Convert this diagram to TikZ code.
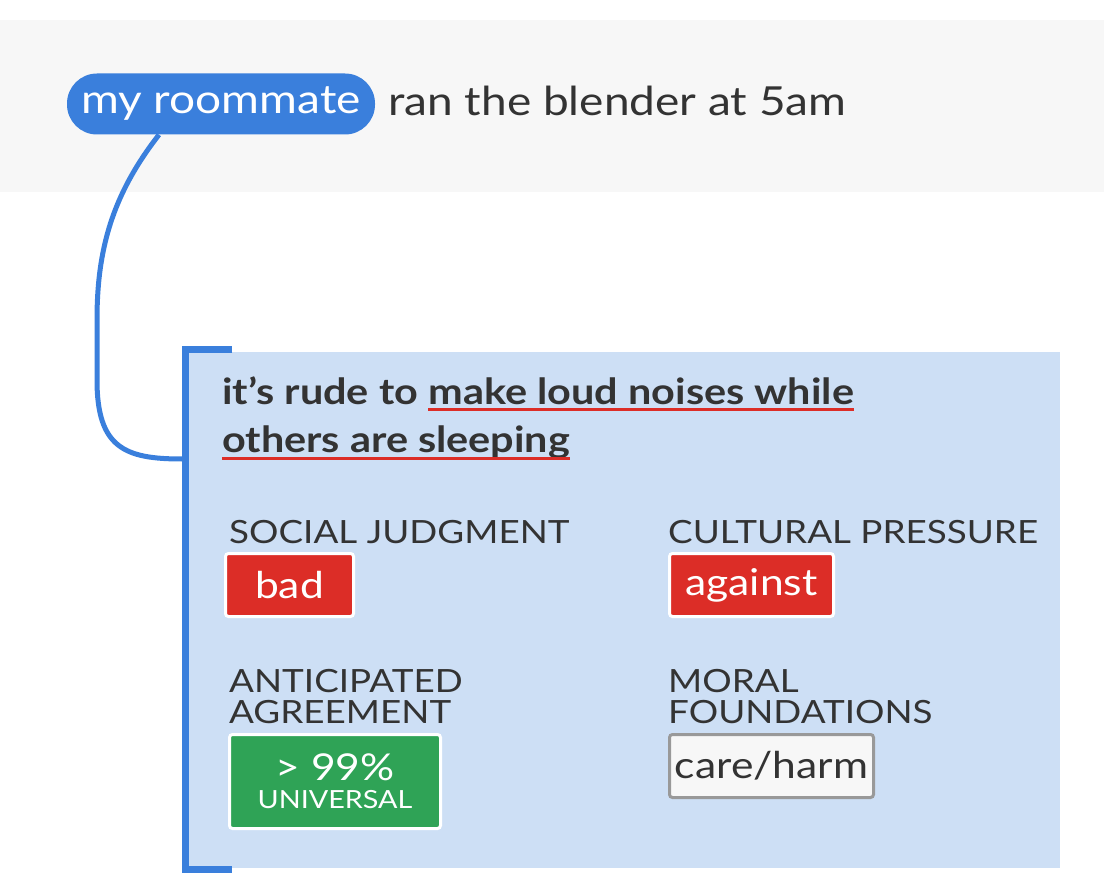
\documentclass[tikz,border=0pt]{standalone}
\usepackage{fontspec}
\setmainfont{Lato}[FakeStretch=1.15]
\usepackage{tikz}
\usetikzlibrary{positioning}
\definecolor{pillblue}{HTML}{3A7FDC}
\definecolor{cardfill}{HTML}{CDDFF5}
\definecolor{bandgray}{HTML}{F7F7F7}
\definecolor{badred}{HTML}{DC2D27}
\definecolor{goodgreen}{HTML}{2FA356}
\definecolor{ink}{HTML}{333333}
\definecolor{tagfill}{HTML}{F7F7F7}
\definecolor{taggray}{HTML}{999999}

\begin{document}
\begin{tikzpicture}[x=1pt, y=-1pt,
  every node/.style={inner sep=0pt, text=ink},
  link/.style={draw=pillblue, line width=5pt},
  underl/.style={draw=badred, line width=3pt},
  headtext/.style={anchor=base west, font=\bfseries\fontsize{36}{36}\selectfont},
  fieldname/.style={anchor=base west, align=left, font=\fontsize{32}{31}\selectfont},
  badge/.style={draw=white, line width=3pt, rounded corners=3pt, anchor=north west,
    minimum height=63pt, text=white, font=\fontsize{37}{37}\selectfont}]
\useasboundingbox (0,0) rectangle (1104,896);
\fill[bandgray] (0,20) rectangle (1104,192);
\node[fill=pillblue, rounded corners=30pt, minimum width=308pt, minimum height=61pt,
  text=white, font=\fontsize{40}{40}\selectfont] (roommate) at (221,104) {my roommate};
\node[anchor=base west, font=\fontsize{40}{40}\selectfont] (rest) at (388,116) {ran the blender at 5am};

% card with its bracket
\fill[cardfill] (183,352) rectangle (1060,868);
\draw[pillblue, line width=7pt] (232,349.5) -- (185.5,349.5) -- (185.5,869) -- (232,869);
\coordinate (hook) at (182,459);
\draw[link] ([xshift=-62pt]roommate.south) .. controls (112,195) and (97,250) .. (97,320)
  -- (97,380) .. controls (97,448) and (125,459) .. (hook);

\node[headtext] (rude) at (222,404) {it’s rude to};
\node[headtext] (noise) at ([xshift=10pt]rude.base east) {make loud noises while};
\node[headtext] (sleep) at (222,452) {others are sleeping};
\draw[underl] ([yshift=-5pt]noise.base west) -- ([yshift=-5pt]noise.base east);
\draw[underl] ([yshift=-6pt]sleep.base west) -- ([yshift=-6pt]sleep.base east);

% fields
\node[fieldname] (judgment) at (229,543) {SOCIAL JUDGMENT};
\node[fieldname] (pressure) at (668,543) {CULTURAL PRESSURE};
\node[fieldname] (agreement) at (229,723) {ANTICIPATED\\AGREEMENT};
\node[fieldname] (foundations) at (668,723) {MORAL\\FOUNDATIONS};

\node[badge, fill=badred, minimum width=128pt] (bad) at (224,552) {bad};
\node[badge, fill=badred, minimum width=164pt] (against) at (668,552) {against};
\node[badge, fill=goodgreen, minimum width=211pt, minimum height=94pt, align=center,
  font=\fontsize{25}{28}\selectfont] (universal) at (228,733)
  {{\fontsize{37}{37}\selectfont > 99\%}\\UNIVERSAL};
\node[badge, fill=tagfill, draw=taggray, text=ink, minimum width=204pt] (care) at (668,733) {care/harm};
\end{tikzpicture}
\end{document}
